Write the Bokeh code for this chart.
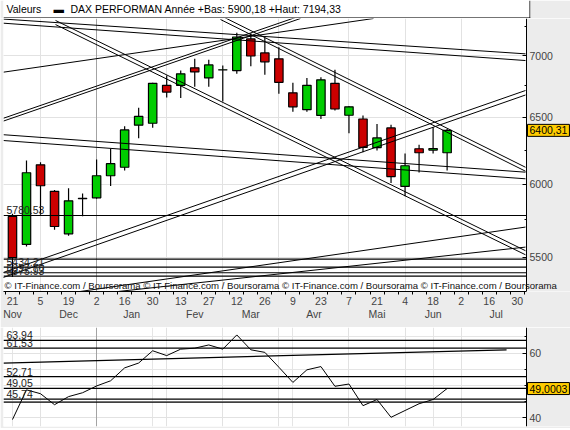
import numpy as np
import pandas as pd
from bokeh.plotting import figure
from bokeh.layouts import column
from bokeh.models import (FixedTicker, LinearAxis, LogAxis, Grid, Label, Span, Range1d,
                          NumeralTickFormatter, BoxAnnotation)
from bokeh.embed import file_html
from bokeh.resources import INLINE

# ---------------- data ----------------
first_week = "2011-11-21"
opens  = [5774, 5584, 6142, 5950, 5655, 5900, 5904, 6062, 6124, 6440, 6455, 6755, 6755, 6898, 6815, 6880,
          6875, 7140, 7022, 6972, 6694, 6561, 6516, 6771, 6517, 6488, 6270, 6419, 5985, 6261, 6251, 6231]
highs  = [5792, 6174, 6161, 5960, 5972, 5935, 6181, 6261, 6431, 6575, 6775, 6835, 6875, 6972, 6964, 6917,
          7194, 7188, 7150, 7070, 6776, 6815, 6820, 6881, 6590, 6516, 6450, 6443, 6225, 6292, 6424, 6410]
lows   = [5370, 5570, 5785, 5682, 5642, 5775, 5898, 5988, 6100, 6340, 6421, 6657, 6654, 6744, 6744, 6625,
          6848, 6911, 6840, 6686, 6545, 6545, 6488, 6554, 6379, 6234, 6248, 6009, 5915, 6086, 6225, 6100]
closes = [5496, 6084, 5990, 5705, 5883, 5898, 6062, 6150, 6404, 6508, 6771, 6700, 6848, 6864, 6922, 6881,
          7157, 6996, 6947, 6779, 6583, 6755, 6799, 6566, 6583, 6271, 6343, 6056, 6135, 6231, 6263, 6400.31]
rsi = [39.4, 48.6, 47.4, 44.0, 46.5, 47.7, 49.8, 51.4, 55.4, 56.9, 60.7, 59.2, 61.2, 61.5, 62.5, 61.2,
       65.6, 61.0, 60.2, 55.6, 50.9, 54.8, 55.8, 49.7, 50.4, 43.7, 45.6, 40.1, 42.2, 44.3, 45.6, 49.0003]

year_low, year_high = 5900.18, 7194.33
last_price = 6400.31
last_rsi = 49.0003

price_levels = [5780.53, 5486.60, 5434.21, 5397.70, 5375.93]
price_level_labels = ["5780.53", "", "5434.21", "5397.70", "5375.93"]
rsi_levels = [63.94, 61.53, 52.71, 49.05, 45.74, 44.80]
rsi_level_labels = ["63,94", "61,53", "52,71", "49,05", "45,74", ""]

# trend lines: (week index, price) end points
trend_k0 = [3.07, 3.07, 14.84, 14.84, -0.64, -0.64, -0.86, -0.86, 3.42, 6.28, -0.64, -0.64, -0.64, -0.64, -0.64]
trend_v0 = [7300, 7264, 7343, 7308, 6494, 6472, 5393, 5361, 5260, 5266, 6367, 6323, 7276, 7312, 6862]
trend_k1 = [36.59, 36.59, 36.59, 36.59, 20.54, 20.54, 36.59, 36.59, 36.59, 36.59, 36.59, 36.59, 36.59, 36.59, 25.75]
trend_v1 = [5542, 5515, 6124, 6095, 7341, 7317, 6713, 6677, 5701, 5566, 6088, 6040, 6958, 7014, 7317]

rsi_trend_k = [-0.64, 35.24]
rsi_trend_v = [56.9, 61.0]

month_names = ["Nov", "Dec", "Jan", "Fev", "Mar", "Avr", "Mai", "Jun", "Jul"]
watermark = " ".join(["© IT-Finance.com / Boursorama"] * 4)

# ---------------- derived ----------------
n = len(closes)
k = np.arange(n)
t0 = pd.Timestamp(first_week)
wk_idx = np.arange(-3, 39)
wk_dates = [t0 + pd.Timedelta(days=7 * int(i)) for i in wk_idx]
month_starts = [int(wk_idx[i]) for i in range(1, len(wk_idx)) if wk_dates[i].month != wk_dates[i - 1].month]
month_centers = [(month_starts[i] + month_starts[i + 1]) / 2 for i in range(len(month_names))]
grid_k = [m for m in month_starts if 0 < m < 37]
year_k = [int(wk_idx[i]) for i in range(1, len(wk_idx)) if wk_dates[i].year != wk_dates[i - 1].year]
light_k = [m for m in grid_k if m not in year_k]
day_ticks = list(range(0, 37, 2))
day_labels = {d: str(wk_dates[list(wk_idx).index(d)].day) for d in day_ticks}
week_ticks = [i + 0.5 for i in range(-1, 37)]

up = [c >= o for o, c in zip(opens, closes)]
colors = ["#00cc00" if u else "#cc0000" for u in up]
tops = [max(o, c) for o, c in zip(opens, closes)]
bots = [min(o, c) for o, c in zip(opens, closes)]

BG = "#ececec"
FONT = "Liberation Sans"
FS = "10.5px"
GRID = "#e2e2e2"

X_START, X_END, AXIS_K = -0.64, 39.80, 36.66
xr = Range1d(X_START, X_END)

def fmt(v):
    return f"{v:.2f}".replace(".", ",")

# ---------------- header ----------------
h = figure(frame_width=527, frame_height=18, x_range=Range1d(0, 1), y_range=Range1d(0, 1),
           x_axis_location=None, y_axis_location=None, toolbar_location=None,
           output_backend="svg", min_border_left=0, min_border_right=43,
           min_border_top=0, min_border_bottom=0,
           background_fill_color="white", border_fill_color=BG, outline_line_color=None)
h.xgrid.visible = False
h.ygrid.visible = False
for txt, off in [("Valeurs", 3), ("▬", 50), ("DAX PERFORMAN", 67),
                 (f"Année +Bas: {fmt(year_low)} +Haut: {fmt(year_high)}", 161)]:
    h.add_layout(Label(x=0, y=0.5, x_offset=off, y_offset=1, text=txt, text_baseline="middle",
                       text_font=FONT, text_font_size=FS, text_color="black"))
h.add_layout(Span(location=0.03, dimension="width", line_color="black", line_width=1))
h.add_layout(Span(location=0.999, dimension="height", line_color="black", line_width=1))

# ---------------- main price panel ----------------
p = figure(frame_width=567, frame_height=273, x_range=xr, y_range=Range1d(5278, 7317),
           y_axis_type="log", y_axis_location=None, toolbar_location=None,
           output_backend="svg", min_border_left=3, min_border_right=0,
           min_border_top=0, min_border_bottom=36,
           background_fill_color="white", border_fill_color=BG, outline_line_color=None)
p.xgrid.visible = False
p.add_layout(Grid(dimension=0, ticker=FixedTicker(ticks=light_k), grid_line_color=GRID))
p.add_layout(Grid(dimension=1, ticker=FixedTicker(ticks=[5500, 6000, 6500, 7000]), grid_line_color=GRID))
p.add_layout(Grid(dimension=0, ticker=FixedTicker(ticks=year_k), grid_line_color="#a3a3a3"))
p.add_layout(BoxAnnotation(left=AXIS_K, fill_color=BG, fill_alpha=1, line_color=None, level="underlay"))

ya = LogAxis(fixed_location=AXIS_K,
             ticker=FixedTicker(ticks=[5500, 6000, 6500, 7000], minor_ticks=[5250, 5750, 6250, 6750, 7250]),
             formatter=NumeralTickFormatter(format="0"),
             major_tick_in=4, major_tick_out=0, minor_tick_in=2, minor_tick_out=0,
             major_label_standoff=3, major_label_text_font=FONT, major_label_text_font_size=FS,
             axis_line_color="black")
p.add_layout(ya, "right")

xa = p.xaxis[0]
xa.ticker = FixedTicker(ticks=day_ticks, minor_ticks=week_ticks)
xa.major_label_overrides = day_labels
xa.bounds = (X_START, AXIS_K)
xa.major_tick_in = 0; xa.major_tick_out = 0
xa.minor_tick_in = 0; xa.minor_tick_out = 3
xa.major_label_standoff = 2
xa.major_label_text_font = FONT
xa.major_label_text_font_size = FS
xa.axis_line_color = "black"

ma = LinearAxis(ticker=FixedTicker(ticks=month_centers),
                major_label_overrides={c: m for c, m in zip(month_centers, month_names)},
                major_tick_in=0, major_tick_out=0, minor_tick_in=0, minor_tick_out=0,
                axis_line_color=None, major_label_standoff=0,
                major_label_text_font=FONT, major_label_text_font_size=FS)
p.add_layout(ma, "below")

# candles
p.segment(x0=k, y0=lows, x1=k, y1=highs, line_color="black", line_width=1.2)
p.vbar(x=k, width=0.6, top=tops, bottom=bots, fill_color=colors, line_color="black", line_width=1.2)

# trend lines & levels
p.segment(x0=trend_k0, y0=trend_v0, x1=trend_k1, y1=trend_v1, line_color="black", line_width=1)
p.segment(x0=[X_START] * len(price_levels), y0=price_levels, x1=[AXIS_K] * len(price_levels),
          y1=price_levels, line_color="black", line_width=1.2)
for lv, lb in zip(price_levels, price_level_labels):
    if lb:
        p.add_layout(Label(x=X_START, y=lv, x_offset=3, y_offset=1, text=lb, text_baseline="bottom",
                           text_font=FONT, text_font_size=FS, text_color="#222222"))

p.add_layout(Label(x=X_START, y=5278, x_offset=1, y_offset=1, text=watermark, text_baseline="bottom",
                   text_font=FONT, text_font_size="9.6px", text_color="#111111"))
p.add_layout(Label(x=AXIS_K, y=last_price, x_offset=1, text=fmt(last_price), text_baseline="middle",
                   text_align="left", text_font=FONT, text_font_size=FS, text_color="black",
                   background_fill_color="#ffcc00", border_line_color="black", padding=2))

# ---------------- RSI panel ----------------
r = figure(frame_width=567, frame_height=99, x_range=xr, y_range=Range1d(37.25, 67.9),
           x_axis_location=None, y_axis_location=None, toolbar_location=None,
           output_backend="svg", min_border_left=3, min_border_right=0,
           min_border_top=0, min_border_bottom=2,
           background_fill_color="white", border_fill_color=BG, outline_line_color=None)
r.add_layout(Grid(dimension=0, ticker=FixedTicker(ticks=light_k), grid_line_color=GRID))
r.add_layout(Grid(dimension=1, ticker=FixedTicker(ticks=[40, 50, 60]), grid_line_color=GRID))
r.add_layout(Grid(dimension=0, ticker=FixedTicker(ticks=year_k), grid_line_color="#a3a3a3"))
r.add_layout(BoxAnnotation(left=AXIS_K, fill_color=BG, fill_alpha=1, line_color=None, level="underlay"))

ra = LinearAxis(fixed_location=AXIS_K,
                ticker=FixedTicker(ticks=[40, 60], minor_ticks=[45, 50, 55, 65]),
                major_tick_in=4, major_tick_out=0, minor_tick_in=2, minor_tick_out=0,
                major_label_standoff=3, major_label_text_font=FONT, major_label_text_font_size=FS,
                axis_line_color="black")
r.add_layout(ra, "right")

r.segment(x0=[X_START] * len(rsi_levels), y0=rsi_levels, x1=[AXIS_K] * len(rsi_levels), y1=rsi_levels,
          line_color="black", line_width=1.3)
r.line(x=rsi_trend_k, y=rsi_trend_v, line_color="black", line_width=1.3)
r.line(x=k, y=rsi, line_color="black", line_width=1)
for lv, lb in zip(rsi_levels, rsi_level_labels):
    if lb:
        r.add_layout(Label(x=X_START, y=lv, x_offset=3, y_offset=1, text=lb, text_baseline="bottom",
                           text_font=FONT, text_font_size=FS, text_color="#222222"))
r.add_layout(Label(x=AXIS_K, y=last_rsi, x_offset=1, text=f"{last_rsi:.4f}".replace(".", ","),
                   text_baseline="middle", text_align="left", text_font=FONT, text_font_size=FS,
                   text_color="black", background_fill_color="#ffcc00", border_line_color="black",
                   padding=2))

layout = column(h, p, r, spacing=0)
open("out.html", "w").write(file_html(layout, INLINE))
